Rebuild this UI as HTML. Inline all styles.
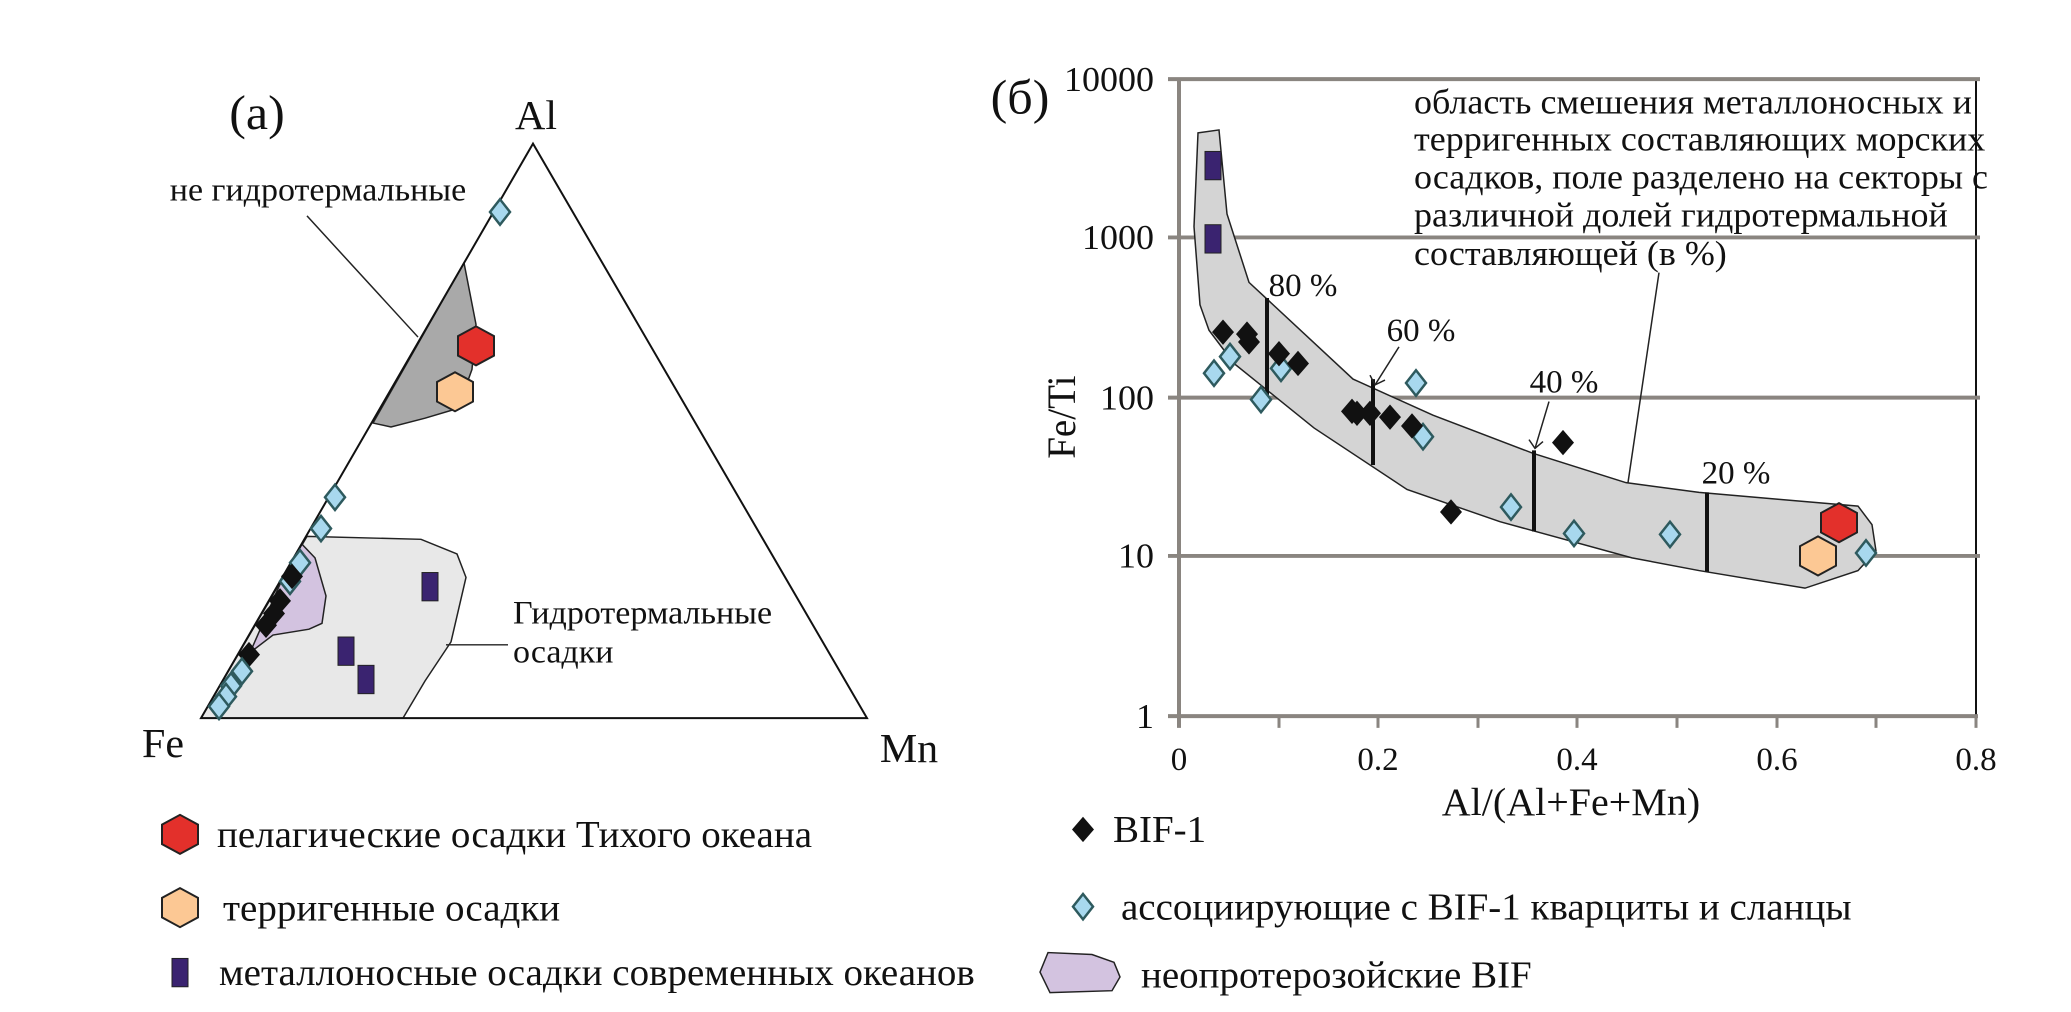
<!DOCTYPE html>
<html><head><meta charset="utf-8"><style>html,body{margin:0;padding:0;background:#fff}svg{display:block}text{font-family:"Liberation Serif",serif;fill:#111}</style></head>
<body>
<svg width="2071" height="1012" viewBox="0 0 2071 1012" xmlns="http://www.w3.org/2000/svg">
<defs>
<g id="bd"><polygon points="0,-13 11,0 0,13 -11,0" fill="#111"/></g>
<g id="ld"><polygon points="0,-13 10,0 0,13 -10,0" fill="#a8d8ee" stroke="#2e5a5e" stroke-width="2.5"/></g>
<g id="rh"><polygon points="0,-20 18,-10 18,10 0,20 -18,10 -18,-10" fill="#e3302b" stroke="#222" stroke-width="2"/></g>
<g id="oh"><polygon points="0,-20 18,-10 18,10 0,20 -18,10 -18,-10" fill="#fcc894" stroke="#222" stroke-width="2"/></g>
<g id="ps"><rect x="-8" y="-14" width="16" height="29" fill="#3a2370" stroke="#222" stroke-width="1"/></g>
</defs>
<g transform="scale(1,0.977)">
<!-- LEFT TERNARY -->
<polygon points="307,549 421,552 457,567 466,591 451,657 425,697 403,735 201,735" fill="#e8e8e8" stroke="#222" stroke-width="1.5"/>
<polygon points="302,557 315,571 326,610 322,638 309,644 273,650 250,668 280,598" fill="#d3c3e0" stroke="#222" stroke-width="1.5"/>
<polygon points="464,269 476,332 472,378 458,418 425,428 391,437 373,433" fill="#a9a9a9" stroke="#222" stroke-width="1.5"/>
<polygon points="533,147 201,735 867,735" fill="none" stroke="#111" stroke-width="2"/>
<line x1="307" y1="221" x2="418" y2="345" stroke="#222" stroke-width="1.5"/>
<line x1="446" y1="660" x2="508" y2="660" stroke="#222" stroke-width="1.5"/>
<use href="#rh" x="476" y="354"/><use href="#oh" x="455" y="401"/>
<use href="#ld" x="500" y="217"/><use href="#ld" x="335" y="509"/><use href="#ld" x="321" y="541"/>
<use href="#ld" x="300" y="576"/><use href="#ld" x="290" y="595"/>
<use href="#bd" x="292" y="590"/><use href="#bd" x="280" y="615"/><use href="#bd" x="274" y="628"/><use href="#bd" x="266" y="640"/><use href="#bd" x="249" y="670"/>
<use href="#ld" x="242" y="687"/><use href="#ld" x="231" y="702"/><use href="#ld" x="226" y="713"/><use href="#ld" x="219" y="723"/>
<use href="#ps" x="430" y="600"/><use href="#ps" x="346" y="666"/><use href="#ps" x="366" y="695"/>
<text x="257" y="132" font-size="50" text-anchor="middle">(a)</text>
<text x="536" y="132" font-size="42" text-anchor="middle">Al</text>
<text x="163" y="775" font-size="42" text-anchor="middle">Fe</text>
<text x="909" y="780" font-size="42" text-anchor="middle">Mn</text>
<text x="318" y="205" font-size="34" text-anchor="middle">не гидротермальные</text>
<text x="513" y="638" font-size="34">Гидротермальные</text>
<text x="513" y="678" font-size="34">осадки</text>
<!-- left legend -->
<use href="#rh" x="180" y="854"/><text x="217" y="867" font-size="39">пелагические осадки Тихого океана</text>
<use href="#oh" x="180" y="929"/><text x="223" y="942" font-size="39">терригенные осадки</text>
<use href="#ps" x="180" y="995"/><text x="219" y="1008" font-size="39">металлоносные осадки современных океанов</text>

<!-- RIGHT PLOT -->
<line x1="1976" y1="81" x2="1976" y2="733" stroke="#111" stroke-width="2"/>
<g stroke="#8a8580" stroke-width="4">
<line x1="1168" y1="81" x2="1980" y2="81"/><line x1="1168" y1="243" x2="1980" y2="243"/><line x1="1168" y1="407" x2="1980" y2="407"/><line x1="1168" y1="569" x2="1980" y2="569"/><line x1="1168" y1="733" x2="1978" y2="733"/>
<line x1="1179" y1="81" x2="1179" y2="745"/>
</g>
<g stroke="#8a8580" stroke-width="3">
<line x1="1279" y1="733" x2="1279" y2="745"/><line x1="1378" y1="733" x2="1378" y2="745"/><line x1="1478" y1="733" x2="1478" y2="745"/><line x1="1577" y1="733" x2="1577" y2="745"/><line x1="1677" y1="733" x2="1677" y2="745"/><line x1="1777" y1="733" x2="1777" y2="745"/><line x1="1876" y1="733" x2="1876" y2="745"/><line x1="1976" y1="733" x2="1976" y2="745"/>
</g>
<polygon points="1198,136 1219,133 1227,219 1249,289 1353,388 1433,425 1533,464 1626,494 1699,504 1778,511 1858,518 1872,537 1876,564 1858,584 1805,602 1699,584 1632,571 1500,534 1407,501 1314,438 1234,372 1209,338 1200,312 1194,232" fill="#d4d4d4" stroke="#222" stroke-width="1.5"/>
<g stroke="#111" stroke-width="4">
<line x1="1267" y1="305" x2="1267" y2="408"/><line x1="1373" y1="388" x2="1373" y2="476"/><line x1="1534" y1="461" x2="1534" y2="544"/><line x1="1707" y1="504" x2="1707" y2="585"/>
</g>
<g stroke="#222" stroke-width="1.5" fill="none">
<line x1="1399" y1="355" x2="1375" y2="394"/><polyline points="1370,384 1375,394 1385,389"/>
<line x1="1549" y1="411" x2="1535" y2="459"/><polyline points="1529,450 1535,459 1543,452"/>
<line x1="1659" y1="279" x2="1628" y2="494"/>
</g>
<use href="#ps" x="1213" y="169"/><use href="#ps" x="1213" y="244"/>
<use href="#ld" x="1214" y="382"/><use href="#ld" x="1230" y="365"/><use href="#ld" x="1261" y="409"/><use href="#ld" x="1281" y="377"/><use href="#ld" x="1416" y="392"/><use href="#ld" x="1423" y="447"/><use href="#ld" x="1511" y="519"/><use href="#ld" x="1574" y="546"/><use href="#ld" x="1670" y="547"/><use href="#ld" x="1866" y="566"/>
<use href="#bd" x="1223" y="340"/><use href="#bd" x="1247" y="342"/><use href="#bd" x="1249" y="350"/><use href="#bd" x="1279" y="362"/><use href="#bd" x="1298" y="372"/><use href="#bd" x="1352" y="421"/><use href="#bd" x="1357" y="423"/><use href="#bd" x="1370" y="423"/><use href="#bd" x="1390" y="427"/><use href="#bd" x="1412" y="436"/><use href="#bd" x="1563" y="453"/><use href="#bd" x="1451" y="524"/>
<use href="#rh" x="1839" y="535"/><use href="#oh" x="1818" y="569"/>
<g font-size="36" text-anchor="end">
<text x="1154" y="93">10000</text><text x="1154" y="255">1000</text><text x="1154" y="419">100</text><text x="1154" y="581">10</text><text x="1154" y="745">1</text>
</g>
<g font-size="33" text-anchor="middle">
<text x="1179" y="788">0</text><text x="1378" y="788">0.2</text><text x="1577" y="788">0.4</text><text x="1777" y="788">0.6</text><text x="1976" y="788">0.8</text>
</g>
<text x="1571" y="834" font-size="40" text-anchor="middle">Al/(Al+Fe+Mn)</text>
<text transform="translate(1075,427) rotate(-90)" font-size="40" text-anchor="middle">Fe/Ti</text>
<text x="1020" y="116" font-size="50" text-anchor="middle">(б)</text>
<g font-size="33">
<text x="1303" y="303" text-anchor="middle">80 %</text><text x="1421" y="349" text-anchor="middle">60 %</text><text x="1564" y="402" text-anchor="middle">40 %</text><text x="1736" y="495" text-anchor="middle">20 %</text>
</g>
<g font-size="36">
<text x="1414" y="116">область смешения металлоносных и</text>
<text x="1414" y="154">терригенных составляющих морских</text>
<text x="1414" y="193">осадков, поле разделено на секторы с</text>
<text x="1414" y="232">различной долей гидротермальной</text>
<text x="1414" y="271">составляющей (в %)</text>
</g>
<!-- right legend -->
<polygon points="1083,836 1094,849 1083,862 1072,849" fill="#111"/><text x="1113" y="862" font-size="39">BIF-1</text>
<use href="#ld" x="1083" y="928"/><text x="1121" y="941" font-size="39">ассоциирующие с BIF-1 кварциты и сланцы</text>
<polygon points="1048,975 1092,977 1114,985 1120,1000 1112,1014 1050,1016 1040,995" fill="#d3c3e0" stroke="#222" stroke-width="1.5"/>
<text x="1141" y="1011" font-size="39">неопротерозойские BIF</text>
</g>
</svg>
</body></html>
